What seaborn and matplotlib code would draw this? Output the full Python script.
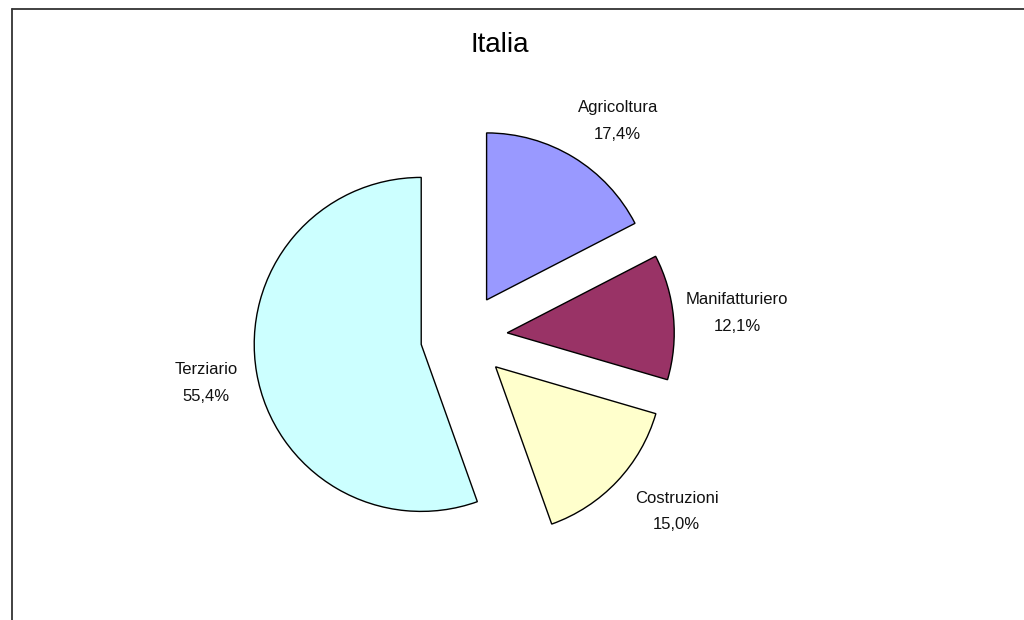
import matplotlib
matplotlib.use("Agg")
import matplotlib.pyplot as plt
from matplotlib.lines import Line2D
import seaborn as sns

categories = ["Agricoltura", "Manifatturiero", "Costruzioni", "Terziario"]
values = [17.4, 12.1, 15.0, 55.4]
colors = ["#9999FF", "#993366", "#FFFFCC", "#CCFFFF"]
title = "Italia"

# small label nudges in pixels (right, down) to mimic the original placement
label_nudge_px = [(13, 15), (4, 2), (16, -11), (9, 0)]

sns.set_theme(style="white")
plt.rcParams["font.family"] = ["Liberation Sans", "DejaVu Sans"]

fig = plt.figure(figsize=(10.24, 6.2), dpi=100)
fig.patch.set_facecolor("white")
ax = fig.add_axes([0, 0, 1, 1])

labels = [f"{c}\n{str(v).replace('.', ',')}%" for c, v in zip(categories, values)]
wedges, texts = ax.pie(
    values,
    labels=labels,
    colors=colors,
    startangle=90,
    counterclock=False,
    explode=[0.26] * len(values),
    radius=1.0,
    labeldistance=1.36,
    wedgeprops=dict(edgecolor="black", linewidth=1.0),
    textprops=dict(fontsize=12, color="#111111"),
)

# pixel mapping: center at (464,337) px, radius 167 px
s = 167.0
for t, (dx, dy) in zip(texts, label_nudge_px):
    t.set_horizontalalignment("center")
    t.set_verticalalignment("center")
    t.set_linespacing(1.95)
    x, y = t.get_position()
    t.set_position((x + dx / s, y - dy / s))

ax.set_xlim(-464 / s, (1024 - 464) / s)
ax.set_ylim(-(620 - 337) / s, 337 / s)
ax.set_aspect("auto")
ax.axis("off")

fig.text(500 / 1024, 1 - 45 / 620, title, fontsize=20, ha="center", va="center", color="black")

# outer frame (left and top edges visible)
fig.add_artist(Line2D([12 / 1024, 12 / 1024], [0, 1 - 9 / 620], transform=fig.transFigure,
                      color="#333333", linewidth=1.3))
fig.add_artist(Line2D([12 / 1024, 1.0], [1 - 9 / 620, 1 - 9 / 620], transform=fig.transFigure,
                      color="#333333", linewidth=1.3))

fig.savefig("out.png", dpi=100, facecolor="white")
